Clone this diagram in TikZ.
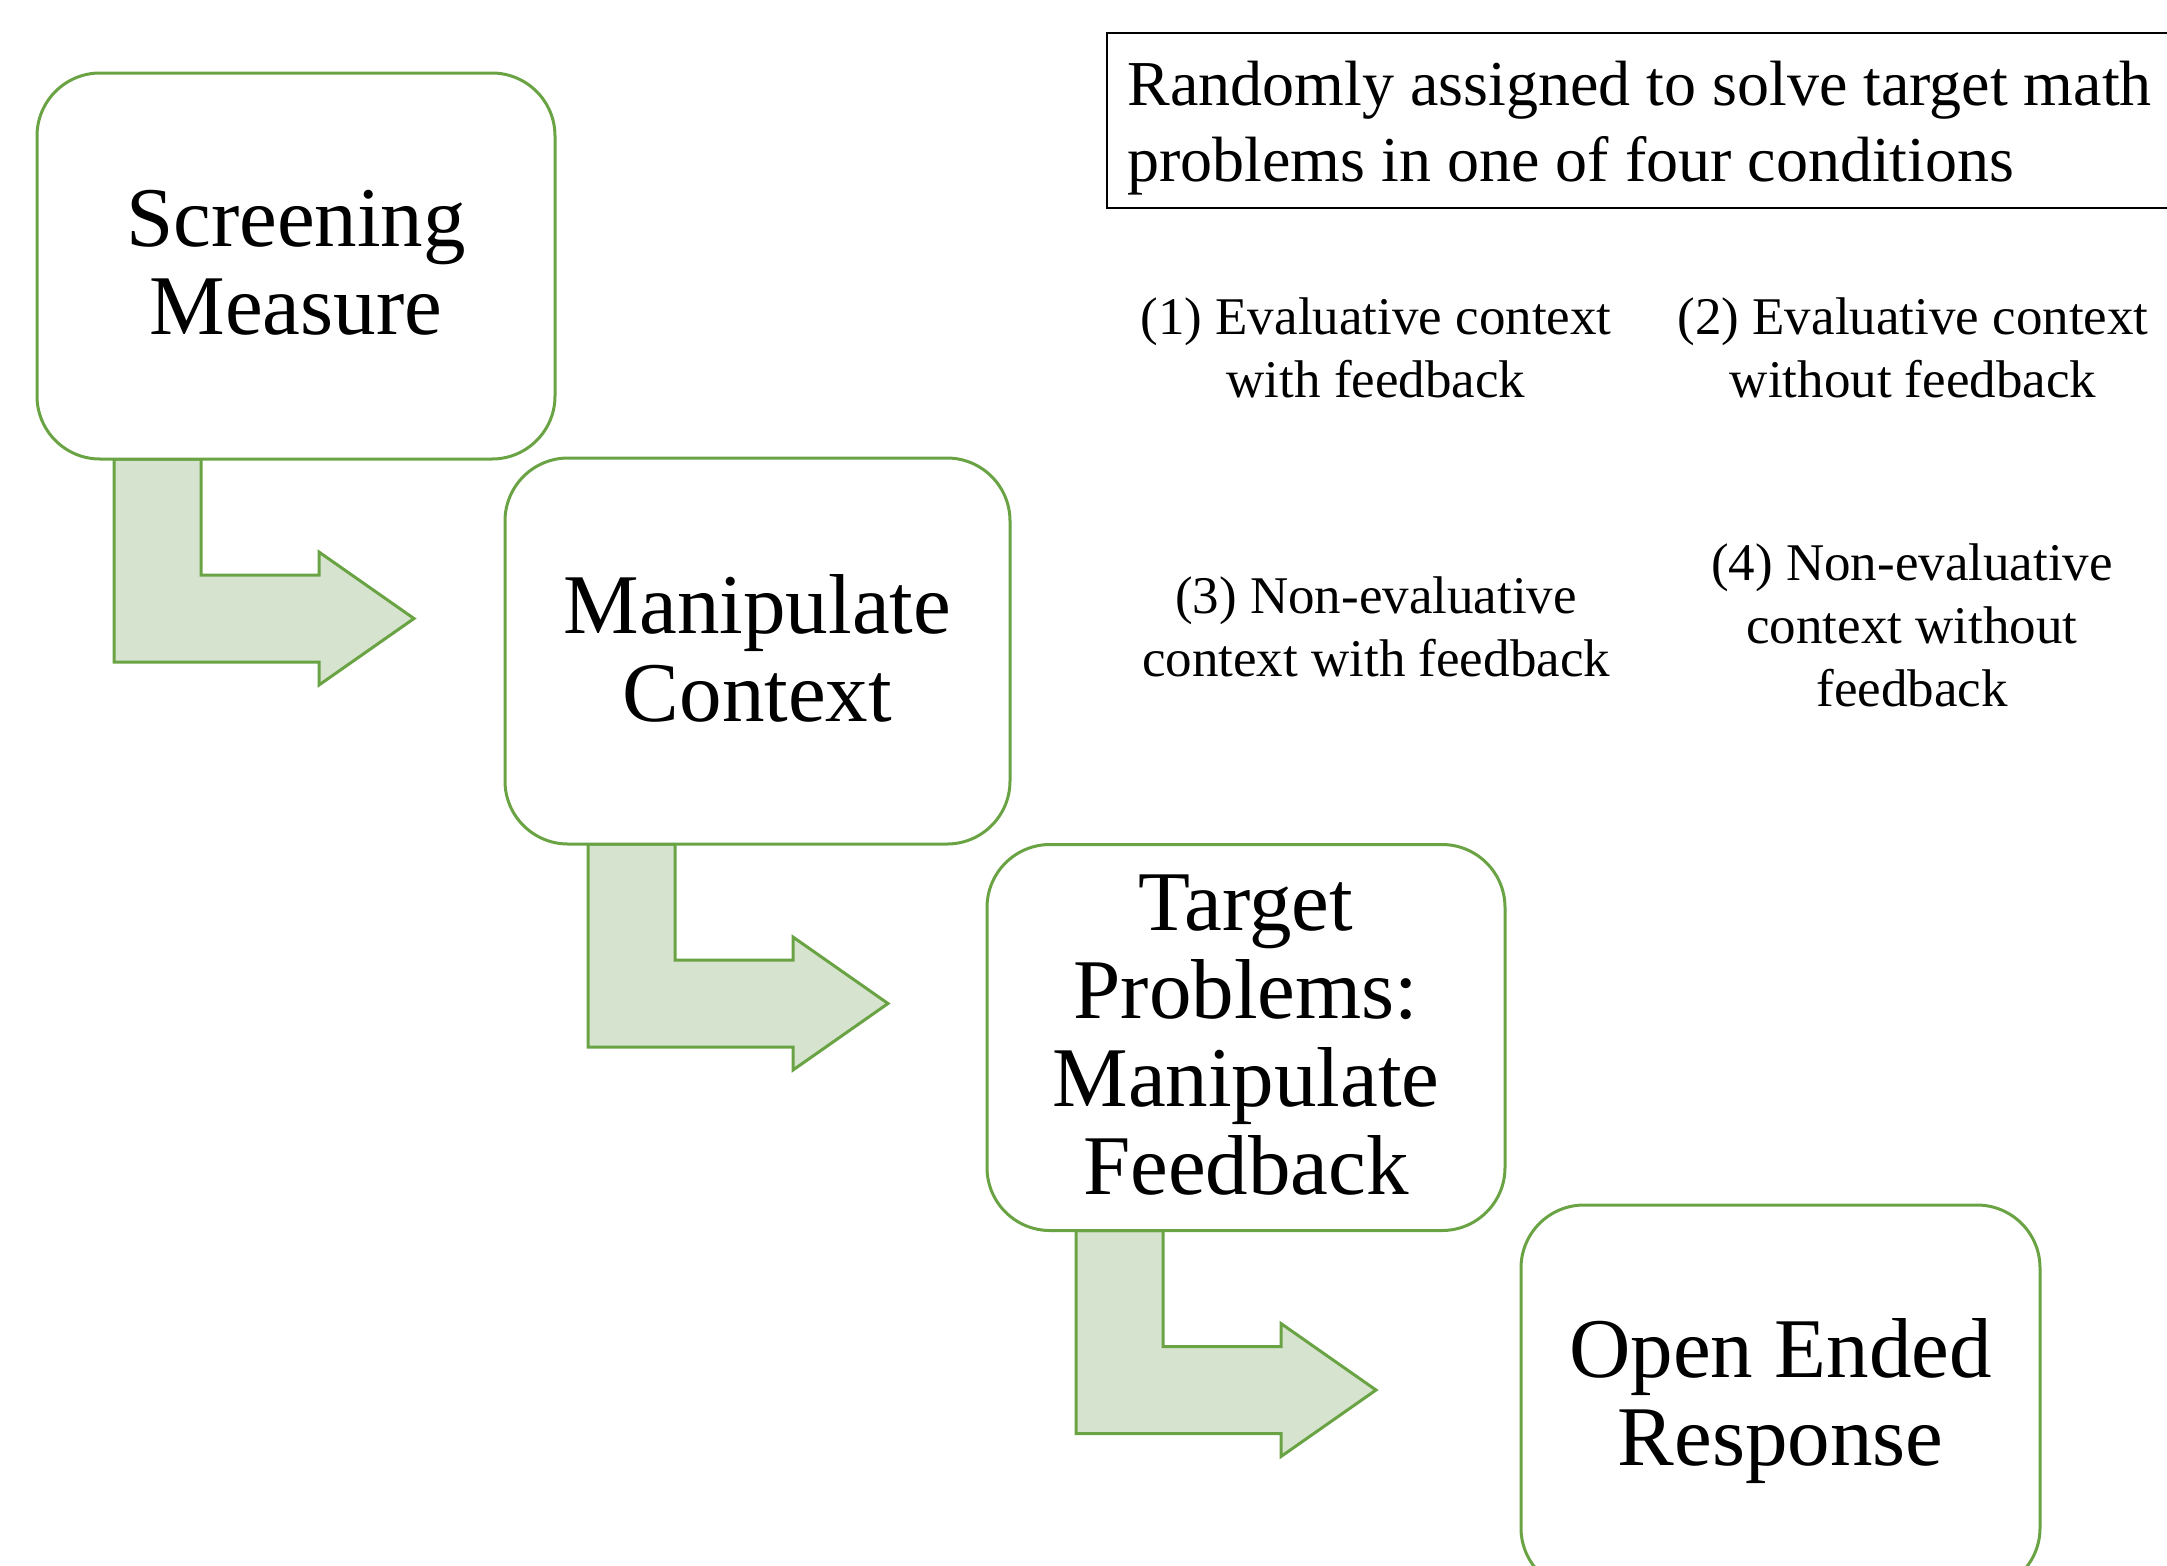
\documentclass[tikz,border=0pt]{standalone}
\usepackage{fontspec}
\setmainfont{Liberation Serif}
\usetikzlibrary{calc,backgrounds}
\definecolor{grn}{RGB}{106,163,68}
\definecolor{grnfill}{RGB}{214,227,206}
\begin{document}
\begin{tikzpicture}[x=0.5pt,y=-0.5pt,
  stage/.style={draw=grn, line width=1.5pt, fill=white, rounded corners=31.5pt,
    minimum height=193pt, inner sep=0pt, outer sep=0pt},
  bigtxt/.style={anchor=base, inner sep=0pt, font=\fontsize{42.5pt}{44pt}\selectfont},
  condtxt/.style={anchor=base, inner sep=0pt, font=\fontsize{26.5pt}{31.5pt}\selectfont},
  toptxt/.style={anchor=base west, inner sep=0pt, font=\fontsize{32pt}{38pt}\selectfont},
  bentarrow/.style={draw=grn, fill=grnfill, line width=1.5pt, line join=miter}]
\useasboundingbox (0,0) rectangle (2167,1565);

% stage boxes
\node[stage, minimum width=259pt]   (b1) at (296,266) {};
\node[stage, minimum width=252.5pt] (b2) at (757.5,651) {};
\node[stage, minimum width=259pt]   (b3) at (1246,1037.5) {};
\node[stage, minimum width=259.5pt] (b4) at (1780.5,1398) {};

% stage texts
\node[bigtxt] (t1) at (296,246) {\begin{tabular}[t]{@{}c@{}}Screening\\Measure\end{tabular}};
\node[bigtxt] (t2) at (757.5,633) {\begin{tabular}[t]{@{}c@{}}Manipulate\\Context\end{tabular}};
\node[bigtxt] (t3) at (1246,930) {\begin{tabular}[t]{@{}c@{}}Target\\Problems:\\Manipulate\\Feedback\end{tabular}};
\node[bigtxt] (t4) at (1780.5,1377) {\begin{tabular}[t]{@{}c@{}}Open Ended\\Response\end{tabular}};

% bent arrows (behind the boxes)
\begin{scope}[on background layer]
\draw[bentarrow] ($(b1.south west)+(77,0)$) -- ++(87,0) -- ++(0,116) -- ++(118,0) -- ++(0,-23)
  -- ++(95,66.5) -- ++(-95,66.5) -- ++(0,-23) -- ++(-205,0) -- cycle;
\draw[bentarrow] ($(b2.south west)+(83,0)$) -- ++(87,0) -- ++(0,116) -- ++(118,0) -- ++(0,-23)
  -- ++(95,66.5) -- ++(-95,66.5) -- ++(0,-23) -- ++(-205,0) -- cycle;
\draw[bentarrow] ($(b3.south west)+(89,0)$) -- ++(87,0) -- ++(0,116) -- ++(118,0) -- ++(0,-23)
  -- ++(95,66.5) -- ++(-95,66.5) -- ++(0,-23) -- ++(-205,0) -- cycle;
\end{scope}

% top note box
\node[draw=black, line width=1pt, anchor=north west, minimum width=560pt,
  minimum height=87.5pt, inner sep=0pt, outer sep=0pt] (rbox) at (1107,33) {};
\node[toptxt] (rtext) at (1127,105) {\begin{tabular}[t]{@{}l@{}}Randomly assigned to solve target math\\problems in one of four conditions\end{tabular}};

% conditions
\node[condtxt] (c1) at (1376,334) {\begin{tabular}[t]{@{}c@{}}(1) Evaluative context\\with feedback\end{tabular}};
\node[condtxt] (c2) at (1913,334) {\begin{tabular}[t]{@{}c@{}}(2) Evaluative context\\without feedback\end{tabular}};
\node[condtxt] (c3) at (1376,613) {\begin{tabular}[t]{@{}c@{}}(3) Non-evaluative\\context with feedback\end{tabular}};
\node[condtxt] (c4) at (1912,580) {\begin{tabular}[t]{@{}c@{}}(4) Non-evaluative\\context without\\feedback\end{tabular}};
\end{tikzpicture}
\end{document}
